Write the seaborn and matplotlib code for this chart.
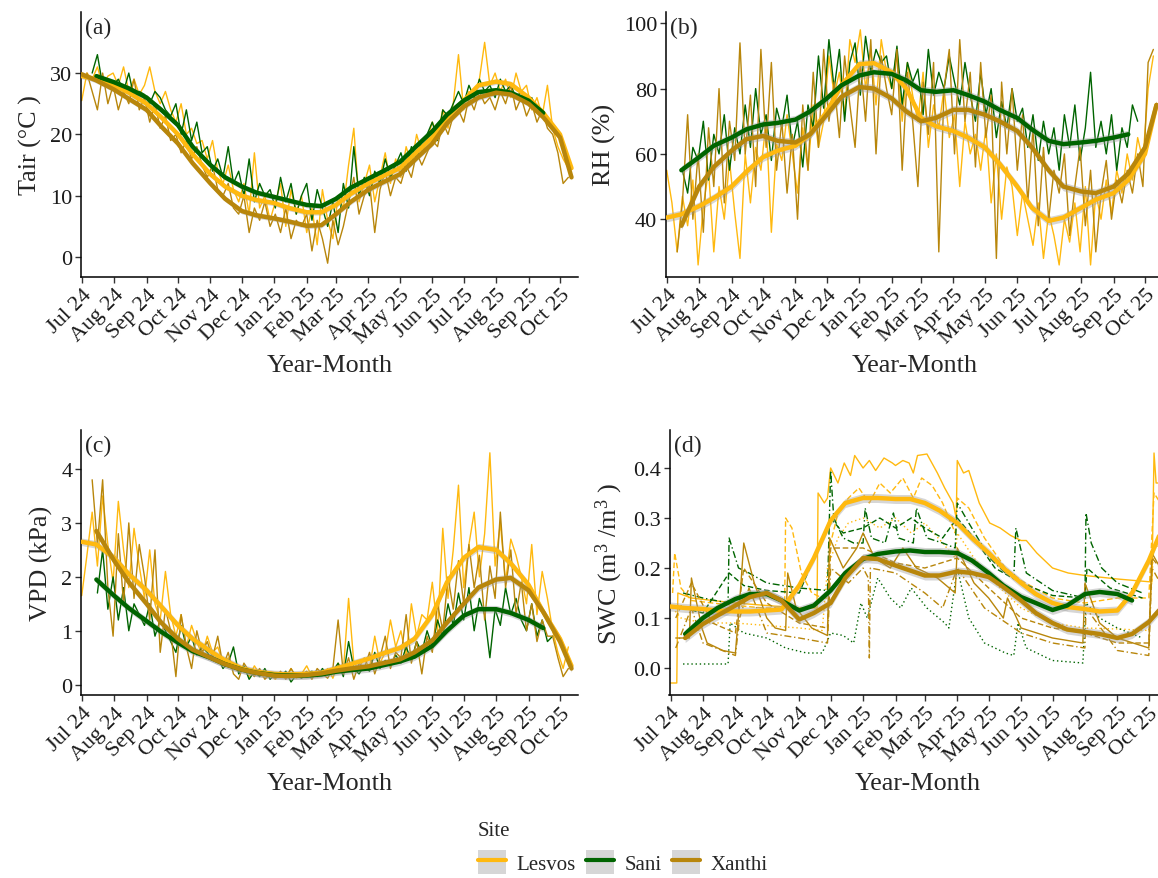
import numpy as np
import pandas as pd
import matplotlib
matplotlib.use("Agg")
import matplotlib.pyplot as plt
from matplotlib.patches import Patch
from matplotlib.lines import Line2D
from matplotlib.legend_handler import HandlerTuple
import seaborn as sns

NaN = np.nan

# ---------------- categories / labels ----------------
sites = ["Lesvos", "Sani", "Xanthi"]
site_colors = ["#FFB90F", "#006400", "#B8860B"]
panel_tags = ["(a)", "(b)", "(c)", "(d)"]
y_titles = ["Tair (°C )", "RH (%)", "VPD (kPa)", "SWC (m$^{3}$ /m$^{3}$ )"]
x_title = "Year-Month"
legend_title = "Site"
month_ticks = pd.date_range("2024-07-01", "2025-10-01", freq="MS")
tick_labels = [d.strftime("%b %y") for d in month_ticks]
y_ticks = [[0, 10, 20, 30], [40, 60, 80, 100], [0, 1, 2, 3, 4], [0.0, 0.1, 0.2, 0.3, 0.4]]

# raw series read every 5 days starting 2024-07-01
raw_start = pd.Timestamp("2024-07-01")
raw_step = 5

tair_lesvos = [25.5, 30, 29, 31, 28, 29.5, 30, 28, 31, 27, 29, 26.5, 28, 31, 27, 25, 27, 24,
               22, 25, 20, 21, 18.5, 19, 16, 19, 14, 12, 15, 11, 9, 12, 7, 17, 8, 10,
               6, 9, 12, 5, 11, 7, 10, 4, 8, 2, 11, 6, 3, 10, 8, 15, 21, 9,
               12, 15, 9, 13, 17, 12, 16, 13, 18, 15, 20, 17, 19, 22, 20, 24, 21, 25,
               33, 24, 27, 26, 29, 35, 28, 30, 27, 29, 26, 30, 27, 28, 24, 26, 23, 28,
               21, 18, 16, 14.5]
tair_sani = [NaN, NaN, 30, 33, 28, 29, 28, 29, 27, 30, 26, 27, 26.5, 25, 27, 26, 24, 23,
             25, 20, 24, 19, 22, 17, 18, 14, 16, 13, 18, 12, 14, 10, 16, 9, 12, 10,
             11, 8, 13, 9, 12, 7, 10, 12, 6, 11, 8, 5, 9, 4, 12, 8, 18, 10,
             13, 10, 14, 12, 16, 13, 15, 17, 14, 18, 16, 19, 20, 22, 19, 24, 23, 25,
             27, 25, 28, 26, 29, 27, 28, 26, 29, 27, 28, 26, 27, 25, 26, 24, 23, 22, 21]
tair_xanthi = [NaN, 30, 27, 24, 30, 25, 28, 24, 27, 25, 29, 24, 26, 22, 25, 21, 23, 19,
               20, 17, 19, 16, 18, 15, 13, 15, 11, 10, 12, 8, 7, 10, 4, 8, 6, 9,
               5, 7, 4, 8, 3, 6, 5, 7, 1, 6, 3, -1, 6, 2, 5, 9, 13, 7,
               10, 12, 4, 11, 14, 10, 13, 12, 15, 13, 17, 15, 17, 19, 18, 22, 20, 23,
               24, 22, 26, 24, 27, 25, 26, 24, 27, 25, 28, 24, 26, 23, 25, 22, 24, 21,
               20, 17, 12, 13]

rh_lesvos = [55, 45, 30, 47, 38, 52, 26, 44, 55, 30, 50, 40, 58, 42, 28, 60, 45, 62,
             55, 70, 36, 63, 58, 72, 60, 48, 68, 55, 75, 62, 70, 90, 78, 85, 72, 95,
             88, 98, 80, 92, 75, 95, 85, 80, 92, 70, 88, 78, 70, 85, 62, 75, 68, 80,
             65, 72, 50, 70, 60, 66, 55, 68, 45, 60, 40, 56, 50, 35, 48, 40, 32, 45,
             28, 42, 35, 26, 40, 33, 45, 30, 50, 26, 48, 40, 52, 42, 55, 48, 60, 52,
             65, 58, 80, 90]
rh_sani = [NaN, NaN, NaN, 55, 48, 62, 58, 70, 52, 66, 60, 72, 55, 68, 60, 75, 62, 80,
           66, 72, 58, 74, 68, 78, 62, 70, 56, 75, 68, 90, 74, 95, 80, 92, 70, 88,
           94, 78, 96, 85, 92, 88, 90, 80, 93, 75, 88, 82, 86, 72, 92, 78, 85, 80,
           90, 82, 75, 88, 78, 70, 85, 72, 80, 65, 76, 68, 80, 70, 74, 62, 72, 58,
           70, 60, 68, 55, 72, 62, 75, 58, 68, 85, 62, 70, 60, 72, 55, 68, 62, 75, 70]
rh_xanthi = [NaN, NaN, 30, 45, 72, 40, 60, 36, 68, 50, 80, 45, 70, 58, 94, 60, 78, 50,
             92, 62, 88, 55, 70, 48, 66, 40, 75, 55, 85, 62, 92, 70, 82, 65, 90, 75,
             62, 88, 70, 95, 60, 90, 80, 72, 92, 55, 85, 70, 50, 82, 66, 88, 30, 80,
             92, 60, 95, 70, 85, 56, 88, 65, 78, 28, 82, 60, 80, 55, 72, 45, 68, 38,
             62, 40, 55, 48, 60, 35, 50, 62, 38, 55, 30, 48, 58, 40, 52, 45, 55, 48,
             60, 50, 88, 92]

vpd_lesvos = [1.65, 2.4, 3.2, 2.2, 3.5, 2.6, 1.9, 3.4, 2.5, 1.8, 2.9, 2.2, 1.6, 2.5, 1.5, 1.2, 2.1, 1.3,
              0.9, 1.3, 0.7, 1.1, 0.8, 0.55, 0.9, 0.6, 0.7, 0.4, 0.5, 0.3, 0.25, 0.3, 0.15, 0.35, 0.2, 0.12,
              0.18, 0.1, 0.22, 0.15, 0.3, 0.12, 0.2, 0.35, 0.15, 0.25, 0.18, 0.3, 0.12, 0.4, 0.25, 1.6, 0.4, 0.3,
              0.5, 0.3, 0.9, 0.4, 0.6, 1.2, 0.7, 1.0, 0.5, 1.5, 0.9, 1.3, 1.2, 1.9, 1.0, 2.9, 1.6, 2.5,
              3.7, 1.8, 2.6, 3.2, 2.0, 2.8, 4.3, 2.2, 3.0, 1.9, 2.7, 2.4, 2.0, 1.5, 2.6, 1.3, 2.1, 1.6,
              1.0, 0.6, 0.3, 0.7]
vpd_sani = [NaN, NaN, NaN, 1.7, 2.5, 1.4, 2.0, 1.2, 1.8, 1.0, 1.5, 1.3, 1.1, 1.5, 0.9, 1.2, 1.0, 0.8,
            0.6, 1.1, 0.7, 0.9, 0.55, 0.7, 0.6, 0.45, 0.5, 0.3, 0.4, 0.7, 0.2, 0.35, 0.1, 0.25, 0.15, 0.3,
            0.1, 0.2, 0.15, 0.25, 0.05, 0.18, 0.12, 0.2, 0.25, 0.15, 0.3, 0.18, 0.25, 0.4, 0.15, 0.8, 0.3, 0.2,
            0.35, 0.25, 0.6, 0.3, 0.45, 0.35, 0.55, 0.4, 0.7, 0.45, 0.8, 0.6, 1.0, 0.7, 1.2, 0.9, 1.5, 1.1,
            1.7, 1.2, 1.8, 1.0, 1.6, 1.3, 0.5, 1.4, 1.1, 1.8, 1.3, 1.6, 1.2, 1.0, 1.5, 0.9, 1.2, 0.8, 0.9]
vpd_xanthi = [NaN, NaN, 3.8, 2.6, 3.8, 1.8, 0.9, 2.8, 1.5, 3.0, 1.6, 2.6, 2.0, 1.2, 2.5, 0.6, 1.4, 1.0,
              0.15, 1.3, 0.7, 0.3, 1.0, 0.6, 0.8, 0.5, 0.9, 0.35, 0.6, 0.2, 0.1, 0.4, 0.25, 0.15, 0.3, 0.1,
              0.2, 0.12, 0.25, 0.1, 0.3, 0.15, 0.18, 0.25, 0.1, 0.3, 0.2, 0.12, 0.3, 1.2, 0.2, 0.5, 0.1, 0.4,
              0.3, 0.6, 0.2, 0.5, 0.9, 0.3, 0.6, 0.5, 1.3, 0.4, 0.8, 0.2, 0.9, 0.6, 1.5, 1.0, 2.0, 1.4,
              2.3, 1.5, 2.6, 1.8, 2.4, 1.2, 2.2, 1.6, 3.2, 1.8, 2.5, 1.3, 1.9, 1.0, 1.5, 0.8, 1.2, 0.9,
              0.9, 0.5, 0.15, 0.3]

# SWC sensors: (days since 2024-07-01, value)
swc_lesvos_1_day = [0, 6, 7, 20, 40, 62, 92, 123, 140, 141, 147, 150, 153, 160, 166, 172, 176, 184, 190, 196,
                    204, 212, 215, 222, 228, 232, 236, 245, 255, 262, 270, 273, 274, 280, 285, 295, 305, 315,
                    325, 335, 340, 350, 365, 380, 396, 427, 460, 462, 464, 468]
swc_lesvos_1 = [-0.03, -0.03, 0.15, 0.14, 0.135, 0.13, 0.125, 0.12, 0.12, 0.35, 0.33, 0.34, 0.40, 0.37, 0.41,
                0.385, 0.425, 0.40, 0.415, 0.395, 0.42, 0.41, 0.405, 0.415, 0.41, 0.39, 0.425, 0.428, 0.39,
                0.36, 0.33, 0.30, 0.415, 0.39, 0.395, 0.33, 0.29, 0.28, 0.265, 0.255, 0.255, 0.23, 0.2, 0.19,
                0.185, 0.178, 0.172, 0.43, 0.37, 0.37]
swc_lesvos_2_day = [2, 4, 10, 20, 40, 62, 90, 109, 110, 116, 125, 135, 145, 150, 153, 160, 170, 180, 190, 200,
                    210, 222, 232, 240, 250, 260, 272, 274, 285, 300, 320, 335, 365, 396, 427, 457, 462, 468]
swc_lesvos_2 = [0.15, 0.23, 0.16, 0.135, 0.13, 0.125, 0.12, 0.12, 0.30, 0.28, 0.19, 0.15, 0.14, 0.14, 0.25,
                0.31, 0.34, 0.36, 0.33, 0.37, 0.35, 0.38, 0.34, 0.38, 0.365, 0.33, 0.27, 0.34, 0.32, 0.26, 0.2,
                0.175, 0.14, 0.13, 0.14, 0.14, 0.35, 0.33]
swc_lesvos_3_day = [2, 10, 31, 62, 92, 123, 145, 150, 160, 170, 184, 200, 215, 230, 243, 260, 272, 274, 290,
                    310, 335, 365, 396, 427, 457, 462, 468]
swc_lesvos_3 = [0.12, 0.1, 0.09, 0.09, 0.085, 0.08, 0.075, 0.2, 0.26, 0.29, 0.3, 0.28, 0.3, 0.27, 0.29, 0.25,
                0.22, 0.27, 0.22, 0.17, 0.12, 0.09, 0.08, 0.078, 0.075, 0.25, 0.24]
swc_sani_1_day = [12, 31, 55, 56, 65, 75, 92, 123, 150, 153, 156, 165, 175, 184, 186, 192, 205, 213, 218, 232,
                  235, 245, 260, 272, 274, 285, 305, 320, 328, 330, 340, 365, 396, 397, 402, 412, 427, 451]
swc_sani_1 = [0.15, 0.14, 0.13, 0.26, 0.2, 0.19, 0.17, 0.16, 0.155, 0.395, 0.3, 0.26, 0.25, 0.25, 0.32, 0.26,
              0.25, 0.31, 0.26, 0.25, 0.32, 0.26, 0.25, 0.24, 0.33, 0.29, 0.22, 0.19, 0.18, 0.28, 0.19, 0.155,
              0.14, 0.31, 0.25, 0.2, 0.17, 0.15]
swc_sani_2_day = [12, 55, 57, 70, 92, 110, 130, 145, 153, 165, 175, 182, 188, 198, 210, 220, 230, 245, 262,
                  266, 274, 285, 300, 320, 328, 332, 340, 365, 394, 397, 410, 427, 451]
swc_sani_2 = [0.008, 0.008, 0.09, 0.07, 0.06, 0.04, 0.03, 0.03, 0.07, 0.065, 0.05, 0.13, 0.1, 0.18, 0.14, 0.12,
              0.16, 0.12, 0.09, 0.08, 0.2, 0.1, 0.05, 0.03, 0.025, 0.09, 0.04, 0.015, 0.01, 0.13, 0.1, 0.08, 0.06]
swc_sani_3_day = [12, 31, 56, 70, 92, 123, 153, 165, 184, 200, 215, 230, 243, 260, 274, 290, 310, 335, 365,
                  396, 398, 420, 451]
swc_sani_3 = [0.12, 0.11, 0.19, 0.165, 0.155, 0.15, 0.3, 0.27, 0.28, 0.3, 0.28, 0.3, 0.28, 0.26, 0.3, 0.26,
              0.2, 0.17, 0.145, 0.14, 0.2, 0.16, 0.14]
swc_xanthi_1_day = [5, 18, 20, 30, 35, 50, 62, 66, 70, 80, 92, 100, 110, 112, 120, 135, 150, 152, 165, 178,
                    184, 195, 210, 222, 235, 255, 272, 274, 290, 304, 318, 322, 335, 365, 394, 396, 410, 427,
                    457, 460, 468]
swc_xanthi_1 = [0.06, 0.06, 0.18, 0.08, 0.05, 0.035, 0.03, 0.13, 0.25, 0.17, 0.1, 0.08, 0.075, 0.19, 0.12,
                0.08, 0.065, 0.26, 0.2, 0.24, 0.27, 0.22, 0.2, 0.24, 0.2, 0.18, 0.15, 0.24, 0.17, 0.14, 0.1,
                0.14, 0.08, 0.06, 0.05, 0.17, 0.09, 0.06, 0.04, 0.23, 0.2]
swc_xanthi_2_day = [5, 20, 31, 62, 66, 75, 92, 123, 150, 153, 170, 184, 189, 190, 191, 215, 243, 260, 274,
                    300, 335, 365, 396, 397, 427, 457, 460, 468]
swc_xanthi_2 = [0.04, 0.12, 0.05, 0.025, 0.1, 0.16, 0.07, 0.06, 0.05, 0.2, 0.17, 0.2, 0.18, 0.02, 0.2, 0.19,
                0.15, 0.12, 0.2, 0.12, 0.07, 0.05, 0.04, 0.12, 0.035, 0.025, 0.2, 0.17]
swc_xanthi_3_day = [5, 20, 40, 62, 70, 92, 123, 150, 153, 184, 215, 243, 274, 304, 335, 365, 396, 427, 457,
                    460, 468]
swc_xanthi_3 = [0.1, 0.17, 0.09, 0.07, 0.2, 0.13, 0.09, 0.08, 0.24, 0.24, 0.21, 0.2, 0.22, 0.16, 0.1, 0.08,
                0.07, 0.05, 0.05, 0.22, 0.2]

# smoothed trends (1st and 15th of each month, then 12 Oct 2025)
smooth_dates = list(pd.date_range("2024-07-01", "2025-10-01", freq="SMS")) + [pd.Timestamp("2025-10-12")]
tair_smooth_lesvos = [29.5, 29.0, 28.0, 26.8, 25.0, 22.8, 20.0, 16.8, 13.5, 11.5, 10.0, 9.3, 8.8, 8.0, 7.3, 7.3,
                      8.5, 10.3, 12.0, 13.2, 14.5, 16.8, 19.5, 22.8, 25.5, 28.0, 28.6, 28.2, 26.0, 23.5, 20.0, 14.5]
tair_smooth_sani = [NaN, 29.5, 28.5, 27.5, 26.0, 24.0, 21.5, 18.0, 15.0, 13.0, 11.5, 10.5, 9.8, 9.2, 8.5, 8.3,
                    9.5, 11.3, 12.8, 14.0, 15.5, 17.8, 20.5, 23.2, 25.5, 26.9, 27.2, 26.8, 25.5, 23.5, NaN, NaN]
tair_smooth_xanthi = [29.8, 28.8, 27.3, 25.8, 24.0, 21.3, 18.5, 15.3, 12.0, 9.5, 7.5, 6.8, 6.3, 5.8, 5.1, 5.2,
                      7.0, 9.0, 11.0, 12.2, 13.5, 15.8, 18.5, 21.8, 24.5, 26.0, 26.8, 26.5, 25.0, 22.8, 19.5, 13.0]
rh_smooth_lesvos = [40.5, 41.5, 44.0, 46.5, 50.0, 54.5, 59.0, 61.0, 62.5, 66.0, 73.0, 81.0, 87.5, 87.8, 85.0,
                    80.0, 71.0, 68.5, 67.0, 65.0, 62.0, 57.0, 50.0, 43.5, 39.5, 40.5, 43.5, 46.0, 48.0, 52.0,
                    60.0, 75.0]
rh_smooth_sani = [NaN, 55.0, 59.0, 62.5, 65.0, 67.5, 69.0, 69.5, 70.5, 73.0, 77.0, 81.0, 84.0, 85.0, 84.5, 82.5,
                  79.5, 79.0, 79.5, 78.0, 76.0, 73.5, 71.0, 67.5, 64.0, 63.0, 63.5, 64.0, 65.0, 66.0, NaN, NaN]
rh_smooth_xanthi = [NaN, 38.0, 50.0, 56.0, 61.0, 64.5, 65.5, 64.0, 63.5, 66.0, 72.0, 77.5, 80.5, 80.0, 77.0,
                    73.0, 70.0, 71.0, 73.5, 73.5, 72.0, 70.0, 67.0, 62.0, 55.0, 50.0, 48.5, 48.0, 50.0, 54.0,
                    62.0, 75.0]
vpd_smooth_lesvos = [2.65, 2.6, 2.35, 2.05, 1.75, 1.45, 1.1, 0.85, 0.62, 0.45, 0.3, 0.24, 0.2, 0.19, 0.2, 0.22,
                     0.3, 0.38, 0.48, 0.58, 0.68, 0.85, 1.3, 1.9, 2.35, 2.55, 2.5, 2.25, 1.85, 1.35, 0.85, 0.35]
vpd_smooth_sani = [NaN, 1.95, 1.65, 1.42, 1.18, 0.98, 0.78, 0.62, 0.5, 0.38, 0.28, 0.22, 0.18, 0.17, 0.17, 0.19,
                   0.24, 0.27, 0.3, 0.36, 0.43, 0.52, 0.72, 1.0, 1.28, 1.4, 1.4, 1.33, 1.2, 1.05, NaN, NaN]
vpd_smooth_xanthi = [NaN, 2.85, 2.3, 1.9, 1.5, 1.15, 0.85, 0.65, 0.5, 0.38, 0.28, 0.22, 0.17, 0.16, 0.18, 0.21,
                     0.26, 0.3, 0.34, 0.4, 0.47, 0.6, 0.82, 1.15, 1.5, 1.8, 1.95, 1.98, 1.75, 1.35, 0.8, 0.3]
swc_smooth_lesvos = [0.123, 0.12, 0.118, 0.115, 0.113, 0.113, 0.115, 0.117, 0.165, 0.22, 0.295, 0.33, 0.34,
                     0.34, 0.338, 0.338, 0.33, 0.315, 0.29, 0.26, 0.23, 0.2, 0.17, 0.148, 0.13, 0.122, 0.118,
                     0.113, 0.115, 0.15, 0.215, 0.27]
swc_smooth_sani = [NaN, 0.068, 0.1, 0.12, 0.138, 0.148, 0.148, 0.135, 0.115, 0.125, 0.155, 0.19, 0.218, 0.228,
                   0.233, 0.235, 0.232, 0.232, 0.23, 0.215, 0.19, 0.165, 0.142, 0.13, 0.116, 0.125, 0.148,
                   0.152, 0.148, 0.135, NaN, NaN]
swc_smooth_xanthi = [NaN, 0.06, 0.088, 0.105, 0.125, 0.142, 0.15, 0.135, 0.097, 0.11, 0.13, 0.18, 0.22, 0.218,
                     0.205, 0.195, 0.185, 0.185, 0.193, 0.19, 0.182, 0.162, 0.135, 0.11, 0.09, 0.077, 0.072,
                     0.068, 0.06, 0.068, 0.092, 0.118]
smooth_se = [0.45, 1.3, 0.07, 0.009]

# ---------------- tidy tables ----------------
def raw_frame(series):
    rows = []
    for site, vals in zip(sites, series):
        d = raw_start + pd.to_timedelta(np.arange(len(vals)) * raw_step, unit="D")
        rows.append(pd.DataFrame({"date": d, "value": vals, "site": site, "sensor": site + "_1"}))
    return pd.concat(rows).dropna()

def sensor_frame(sensor_list):
    rows = []
    for site, sensor, days, vals in sensor_list:
        d = raw_start + pd.to_timedelta(np.array(days), unit="D")
        rows.append(pd.DataFrame({"date": d, "value": vals, "site": site, "sensor": sensor}))
    return pd.concat(rows)

def smooth_frame(series):
    rows = []
    for site, vals in zip(sites, series):
        rows.append(pd.DataFrame({"date": smooth_dates, "value": vals, "site": site}))
    return pd.concat(rows).dropna()

raw_tables = [
    raw_frame([tair_lesvos, tair_sani, tair_xanthi]),
    raw_frame([rh_lesvos, rh_sani, rh_xanthi]),
    raw_frame([vpd_lesvos, vpd_sani, vpd_xanthi]),
    sensor_frame([
        ("Lesvos", "s1", swc_lesvos_1_day, swc_lesvos_1),
        ("Lesvos", "s2", swc_lesvos_2_day, swc_lesvos_2),
        ("Lesvos", "s3", swc_lesvos_3_day, swc_lesvos_3),
        ("Sani", "s4", swc_sani_1_day, swc_sani_1),
        ("Sani", "s3", swc_sani_2_day, swc_sani_2),
        ("Sani", "s2", swc_sani_3_day, swc_sani_3),
        ("Xanthi", "s1", swc_xanthi_1_day, swc_xanthi_1),
        ("Xanthi", "s4", swc_xanthi_2_day, swc_xanthi_2),
        ("Xanthi", "s2", swc_xanthi_3_day, swc_xanthi_3),
    ]),
]
smooth_tables = [
    smooth_frame([tair_smooth_lesvos, tair_smooth_sani, tair_smooth_xanthi]),
    smooth_frame([rh_smooth_lesvos, rh_smooth_sani, rh_smooth_xanthi]),
    smooth_frame([vpd_smooth_lesvos, vpd_smooth_sani, vpd_smooth_xanthi]),
    smooth_frame([swc_smooth_lesvos, swc_smooth_sani, swc_smooth_xanthi]),
]

# ---------------- styling ----------------
sns.set_theme(style="ticks")
plt.rcParams["font.family"] = ["Liberation Serif", "DejaVu Serif"]
plt.rcParams["mathtext.fontset"] = "custom"
plt.rcParams["mathtext.rm"] = "Liberation Serif"
plt.rcParams["mathtext.it"] = "Liberation Serif:italic"
plt.rcParams["axes.unicode_minus"] = False

palette = dict(zip(sites, site_colors))
sensor_dashes = {"s1": "", "s2": (4, 2), "s3": (1, 2), "s4": (5, 2, 1, 2)}

W, H = 1158, 879
fig = plt.figure(figsize=(W / 100, H / 100), dpi=100)
ax_w = 497.3 / W
ax_h = 265.0 / H
rects = [
    (80.7 / W, 1 - 277.7 / H, ax_w, ax_h),
    (665.7 / W, 1 - 277.7 / H, ax_w, ax_h),
    (80.7 / W, 1 - 696.0 / H, ax_w, ax_h),
    (669.5 / W, 1 - 696.0 / H, ax_w, ax_h),
]
ylims = [(-3.2, 40.0), (22.4, 103.55), (-0.191, 4.723), (-0.054, 0.476)]
xlim = (pd.Timestamp("2024-06-30 01:00"), pd.Timestamp("2025-10-18 05:00"))

for i in range(4):
    ax = fig.add_axes(rects[i])
    raw = raw_tables[i]
    if i == 3:
        sns.lineplot(data=raw, x="date", y="value", hue="site", style="sensor", units="sensor",
                     estimator=None, palette=palette, hue_order=sites, dashes=sensor_dashes,
                     linewidth=1.0, legend=False, ax=ax, sort=True)
    else:
        sns.lineplot(data=raw, x="date", y="value", hue="site", units="sensor", estimator=None,
                     palette=palette, hue_order=sites, linewidth=1.0, legend=False, ax=ax)
    sm = smooth_tables[i]
    for site in sites:
        s = sm[sm["site"] == site]
        ax.fill_between(s["date"], s["value"] - smooth_se[i], s["value"] + smooth_se[i],
                        color="#999999", alpha=0.4, linewidth=0, zorder=3)
    sns.lineplot(data=sm, x="date", y="value", hue="site", palette=palette, hue_order=sites,
                 linewidth=3.2, legend=False, ax=ax, estimator=None, zorder=4)

    ax.set_xlim(xlim)
    ax.set_ylim(ylims[i])
    ax.set_xticks(month_ticks)
    ax.set_xticklabels(tick_labels, rotation=45, ha="right", va="top", rotation_mode="anchor")
    ax.set_yticks(y_ticks[i])
    if i == 3:
        ax.set_yticklabels([f"{v:.1f}" for v in y_ticks[i]])
    ax.tick_params(axis="both", direction="out", length=4, width=1.0, color="#333333",
                   labelsize=16, labelcolor="#1a1a1a", pad=2)
    for side in ["top", "right"]:
        ax.spines[side].set_visible(False)
    for side in ["left", "bottom"]:
        ax.spines[side].set_linewidth(1.1)
        ax.spines[side].set_color("black")
    ax.set_xlabel(x_title, fontsize=18.8, labelpad=5)
    ax.set_ylabel(y_titles[i], fontsize=18.8, labelpad=6)
    ax.text(0.009, 0.982, panel_tags[i], transform=ax.transAxes, ha="left", va="top", fontsize=17)

# legend
handles = []
for c in site_colors:
    handles.append((Patch(facecolor="#d6d6d6", edgecolor="none"), Line2D([0], [0], color=c, lw=3)))
leg = fig.legend(handles=handles, labels=sites, handler_map={tuple: HandlerTuple(ndivide=1, pad=0)},
                 ncol=3, loc="upper left", bbox_to_anchor=(478 / W, 1 - 822 / H), frameon=False,
                 title=legend_title, alignment="left", fontsize=15, title_fontsize=15,
                 handlelength=1.35, handleheight=1.4, handletextpad=0.5, columnspacing=0.5,
                 borderpad=0, borderaxespad=0)

fig.savefig("out.png", dpi=100)
